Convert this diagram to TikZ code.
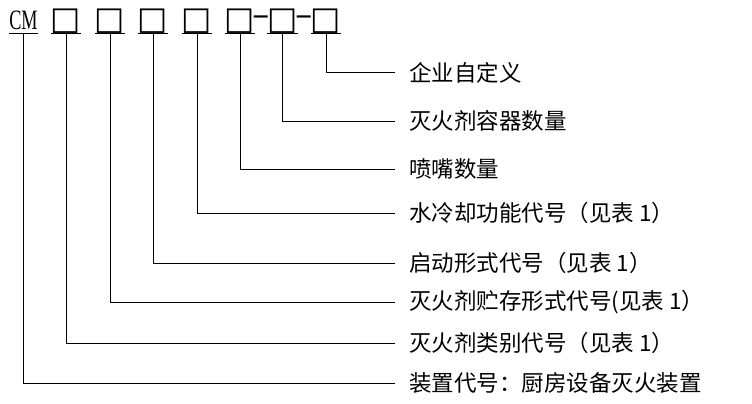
\documentclass[tikz,border=0pt]{standalone}
\usepackage{fontspec}
\setmainfont{Liberation Serif}
\newfontfamily\cjk{Noto Sans CJK SC}
\newfontfamily\symfont{DejaVu Sans}
\usetikzlibrary{positioning, calc}

\begin{document}
\begin{tikzpicture}[x=1pt, y=-1pt,
  slot/.style={anchor=south, minimum width=29pt, inner xsep=0pt, inner ysep=4pt, text depth=0pt, font=\symfont\fontsize{32}{32}\selectfont},
  sep/.style={inner sep=0pt, font=\symfont\fontsize{24}{24}\selectfont},
  desc/.style={anchor=west, inner xsep=14pt, inner ysep=0pt, font=\cjk\fontsize{22.5}{22.5}\selectfont},
  link/.style={draw=black, line width=1pt}
]
  \useasboundingbox (0,0) rectangle (752,404);

  % Code positions
  \node[slot, font=\fontsize{28}{28}\selectfont] (cm) at (23.5,34) {\scalebox{0.65}[1]{CM}};
  \node[slot] (boxA) at (66,34) {□};
  \node[slot] (boxB) at (110,34) {□};
  \node[slot] (boxC) at (153,34) {□};
  \node[slot] (boxD) at (197,34) {□};
  \node[slot] (boxE) at (240,34) {□};
  \node[slot] (boxF) at (282.5,34) {□};
  \node[slot] (boxG) at (326,34) {□};
  \node[sep] (dashA) at (261,21) {\scalebox{1.45}[1.3]{–}};
  \node[sep] (dashB) at (304.5,21) {\scalebox{1.45}[1.3]{–}};

  % Underlines
  \draw[link] (cm.south west) -- (cm.south east);
  \draw[link] (boxA.south west) -- (boxA.south east);
  \draw[link] (boxB.south west) -- (boxB.south east);
  \draw[link] (boxC.south west) -- (boxC.south east);
  \draw[link] (boxD.south west) -- (boxD.south east);
  \draw[link] (boxE.south west) -- (boxE.south east);
  \draw[link] (boxF.south west) -- (boxF.south east);
  \draw[link] (boxG.south west) -- (boxG.south east);

  % Meanings
  \node[desc] (selfdef) at (395,73) {企业自定义};
  \node[desc] (tankqty) at (395,121) {灭火剂容器数量};
  \node[desc] (nozzleqty) at (395,169) {喷嘴数量};
  \node[desc] (coolcode) at (395,213) {水冷却功能代号（见表 1）};
  \node[desc] (startcode) at (395,263) {启动形式代号（见表 1）};
  \node[desc] (storecode) at (395,302) {灭火剂贮存形式代号(见表 1）};
  \node[desc] (agentcode) at (395,343) {灭火剂类别代号（见表 1）};
  \node[desc] (devcode) at (395,383) {装置代号：厨房设备灭火装置};

  % Leaders
  \draw[link] (boxG.south) |- (selfdef.west);
  \draw[link] (boxF.south) |- (tankqty.west);
  \draw[link] (boxE.south) |- (nozzleqty.west);
  \draw[link] (boxD.south) |- (coolcode.west);
  \draw[link] (boxC.south) |- (startcode.west);
  \draw[link] (boxB.south) |- (storecode.west);
  \draw[link] (boxA.south) |- (agentcode.west);
  \draw[link] (cm.south) |- (devcode.west);
\end{tikzpicture}
\end{document}
